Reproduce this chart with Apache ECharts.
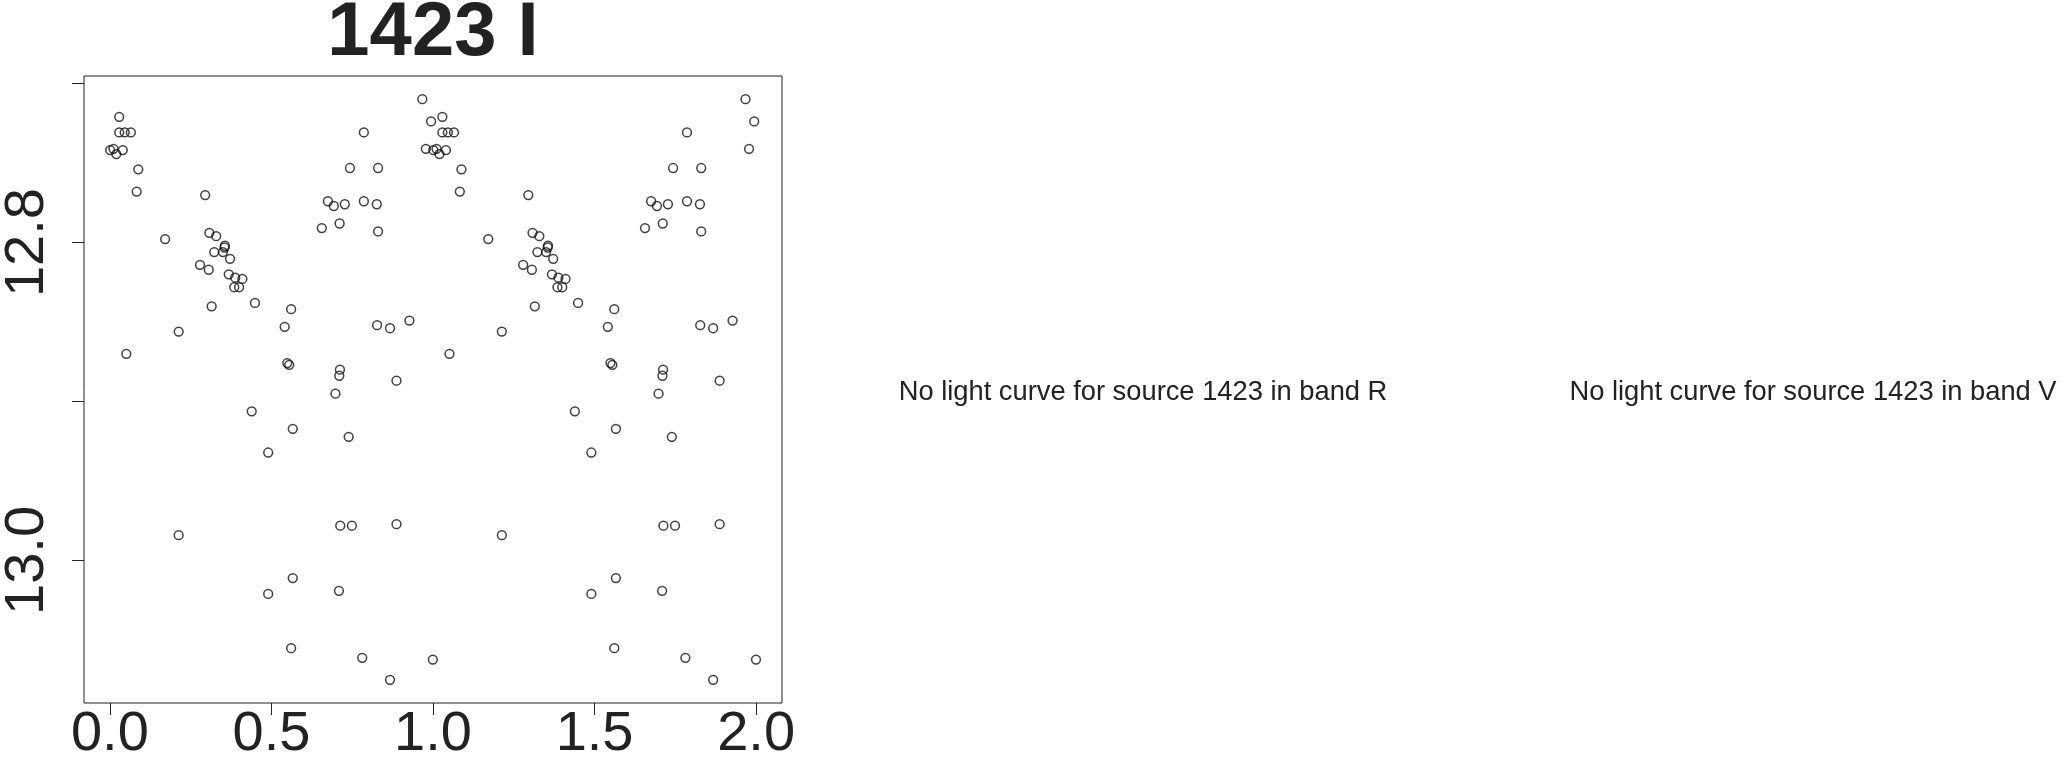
<!DOCTYPE html>
<html>
<head>
<meta charset="utf-8">
<script src="https://cdn.jsdelivr.net/npm/echarts@6/dist/echarts.min.js"></script>
<style>
html,body{margin:0;padding:0;background:#fff;}
#chart{width:2064px;height:763px;}
</style>
</head>
<body>
<div id="chart"></div>
<script>
// Phase-folded light curve, source 1423, band I (phase in [0,1), magnitude)
const phase = [0.029,0.029,0.046,0.065,0.001,0.011,0.020,0.040,0.088,0.083,
  0.051,0.171,0.213,0.295,0.308,0.329,0.355,0.356,0.323,0.350,
  0.372,0.279,0.306,0.368,0.388,0.410,0.385,0.400,0.315,0.449,
  0.561,0.541,0.549,0.555,0.712,0.710,0.887,0.827,0.867,0.927,
  0.656,0.711,0.830,0.675,0.693,0.727,0.786,0.826,0.743,0.830,
  0.786,0.967,0.994,0.978,0.698,0.439,0.566,0.739,0.490,0.213,
  0.713,0.749,0.887,0.566,0.490,0.709,0.561,0.781,0.867,0.9995];
const mag = [12.7209,12.7307,12.7307,12.7307,12.7418,12.7410,12.7443,12.7418,12.7539,12.7679,
  12.8700,12.7978,12.8560,12.7701,12.7939,12.7960,12.8031,12.8020,12.8060,12.8060,
  12.8102,12.8140,12.8171,12.8200,12.8221,12.8229,12.8281,12.8281,12.8401,12.8380,
  12.8419,12.8530,12.8758,12.8769,12.8800,12.8838,12.8869,12.8520,12.8539,12.8491,
  12.7909,12.7880,12.7930,12.7740,12.7770,12.7759,12.7740,12.7759,12.7531,12.7531,
  12.7307,12.7098,12.7238,12.7410,12.8951,12.9062,12.9172,12.9222,12.9321,12.9841,
  12.9781,12.9781,12.9772,13.0111,13.0211,13.0191,13.0552,13.0613,13.0751,13.0624];
const xTicks = [0, 0.5, 1.0, 1.5, 2.0];
const yTicks = [12.7, 12.8, 12.9, 13.0];
const yLabels = [12.8, 13.0];
const title = '1423 I';
const missing = ['No light curve for source 1423 in band R', 'No light curve for source 1423 in band V'];

// two cycles of phase, as in the original folded plot
const points = [];
for (let c = 0; c < 2; c++) {
  for (let i = 0; i < phase.length; i++) points.push([phase[i] + c, mag[i]]);
}

const FONT = "'Liberation Sans', Arial, Helvetica, sans-serif";
const INK = '#222';
const chart = echarts.init(document.getElementById('chart'), null, {renderer: 'canvas'});
chart.setOption({
  animation: false,
  backgroundColor: '#fff',
  grid: {left: 83, right: 1282, top: 76, bottom: 58, show: true, borderColor: INK, borderWidth: 1, backgroundColor: 'transparent'},
  xAxis: {
    type: 'value', min: -0.08, max: 2.08,
    axisLine: {show: false, onZero: false},
    splitLine: {show: false},
    axisTick: {show: true, length: 12, lineStyle: {color: INK, width: 1}, customValues: xTicks},
    axisLabel: {customValues: xTicks, margin: 4, fontSize: 56, color: INK, fontFamily: FONT,
      formatter: v => v.toFixed(1)}
  },
  yAxis: {
    type: 'value', inverse: true, min: 12.6952, max: 13.0897,
    axisLine: {show: false, onZero: false},
    splitLine: {show: false},
    axisTick: {show: true, length: 12, lineStyle: {color: INK, width: 1}, customValues: yTicks},
    axisLabel: {customValues: yLabels, rotate: 90, margin: 28, fontSize: 56, color: INK, fontFamily: FONT,
      formatter: v => v.toFixed(1)}
  },
  series: [{
    type: 'scatter',
    data: points,
    symbol: 'circle',
    symbolSize: 8.8,
    itemStyle: {color: 'transparent', borderColor: '#111', borderWidth: 1.5},
    silent: true
  }],
  graphic: [
    {type: 'text', x: 433, y: 34, style: {text: title, font: "bold 76px " + FONT, fill: INK, align: 'center', verticalAlign: 'middle'}},
    {type: 'text', x: 1143, y: 392, style: {text: missing[0], font: "27.3px " + FONT, fill: INK, align: 'center', verticalAlign: 'middle'}},
    {type: 'text', x: 1813, y: 392, style: {text: missing[1], font: "27.3px " + FONT, fill: INK, align: 'center', verticalAlign: 'middle'}}
  ]
});
</script>
</body>
</html>
